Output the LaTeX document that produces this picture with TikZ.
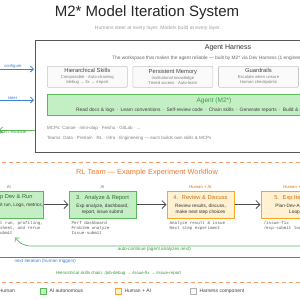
\documentclass[tikz,border=0pt]{standalone}
\usepackage{fontspec}
\setmainfont{Liberation Sans}
\setmonofont{Liberation Mono}
\usetikzlibrary{arrows.meta, positioning}

\definecolor{aigreen}{HTML}{5CB85C}
\definecolor{aifill}{HTML}{C4EFC4}
\definecolor{aitext}{HTML}{3A9A44}
\definecolor{aihead}{HTML}{2E6B30}
\definecolor{huorange}{HTML}{F5A623}
\definecolor{hufill}{HTML}{FFF1D2}
\definecolor{huhead}{HTML}{D0700F}
\definecolor{rlorange}{HTML}{EE7A30}
\definecolor{dashorange}{HTML}{F5A070}
\definecolor{steerblue}{HTML}{3B82D6}
\definecolor{harnessgray}{HTML}{555555}
\definecolor{headgray}{HTML}{444444}
\definecolor{notegray}{HTML}{808080}

\newcommand{\fsz}[2]{\fontsize{#1}{#2}\selectfont}
\newcommand{\boxhead}[1]{{\fsz{5.8}{7}\color{headgray}#1}}
\newcommand{\flowhead}[2]{{\fsz{5.7}{7}\color{#1}#2}}
\newcommand{\dotsep}{\hspace{2.2pt}·\hspace{2.2pt}}

\begin{document}
\begin{tikzpicture}[x=1pt, y=-1pt,
    subbox/.style    = {draw=gray!45, fill=gray!4, rounded corners=1pt, line width=0.6pt,
                        minimum width=80pt, minimum height=21pt, align=center,
                        inner sep=0pt, font=\fsz{4.2}{5}, text=notegray},
    flowbox/.style   = {line width=1pt, minimum width=67pt, minimum height=27pt,
                        align=center, inner sep=0pt, font=\fsz{4.75}{6}, text=black!80},
    aibox/.style     = {flowbox, draw=aigreen, fill=aifill},
    hubox/.style     = {flowbox, draw=huorange, fill=hufill},
    flowarrow/.style = {-{Straight Barb[length=4pt, width=8pt]}, draw=black!70, line width=0.8pt},
    sidearrow/.style = {-{Straight Barb[length=3pt, width=6pt]}, line width=0.8pt},
    tag/.style       = {font=\fsz{4.2}{5}, inner sep=0.5pt},
    monotxt/.style   = {font=\ttfamily\fsz{4.2}{4.9}, align=left, inner sep=0pt, text=black!65},
    legendsq/.style  = {minimum size=6pt, inner sep=0pt, line width=0.6pt},
    orangedash/.style= {draw=dashorange, line width=0.8pt, dash pattern=on 4pt off 3pt},
  ]
  \clip (0,0) rectangle (300,300);
  \fill[white] (0,0) rectangle (300,300);

  % title
  \node[font=\fsz{15}{18}, text=black!85] (title) at (147,13) {M2* Model Iteration System};
  \node[font=\fsz{5}{6}, text=gray!75] (subtitle) at (158,28)
        {Humans steer at every layer. Models build at every layer.};

  % agent harness
  \node[draw=harnessgray, line width=1.4pt, fill=white, minimum width=360pt,
        minimum height=112pt, anchor=north west, inner sep=0pt] (harness) at (35,40) {};
  \node[font=\fsz{7}{8}, text=black!80] (harnessTitle) at (228,48) {Agent Harness};
  \node[font=\fsz{4.8}{5.5}, text=black!60, anchor=west, inner sep=0pt] (harnessSub) at (112,58)
        {The workspace that makes the agent reliable — built by M2* via Dev Harness (1 engineer)};

  \node[subbox, anchor=north west] (skills) at (47,66)
        {\boxhead{Hierarchical Skills}\\[1pt] Composable · Auto-chaining\\ /debug → fix → /report};
  \node[subbox, right=5pt of skills] (memory)
        {\boxhead{Persistent Memory}\\[1pt] Institutional knowledge\\ Tiered access · Auto-learn};
  \node[subbox, right=5pt of memory] (guard)
        {\boxhead{Guardrails}\\[1pt] Escalate when unsure\\ Human checkpoints};

  \node[draw=aigreen, fill=aifill, line width=1pt, minimum width=334pt, minimum height=20.5pt,
        anchor=north west, inner sep=0pt] (agent) at (47,94) {};
  \node[font=\fsz{6.5}{7}, text=aitext] (agentTitle) at (214,101) {Agent (M2*)};
  \node[font=\fsz{4.9}{6}, text=black!75, anchor=west, inner sep=0pt] (agentSkills) at (76,110)
        {Read docs \& logs\dotsep Learn conventions\dotsep Self-review code\dotsep Chain skills\dotsep
         Generate reports\dotsep Build \& use tools};

  \node[font=\fsz{4.5}{9.5}, text=notegray, anchor=north west, inner sep=0pt, align=left]
        (mcps) at (47,126.5)
        {MCPs: Canoe · mini-olap · Feishu · GitLab · ...\\
         Teams: Data · Pretrain · RL · Infra · Engineering — each builds own skills \& MCPs};

  % human side
  \coordinate (cfgStart) at (-5,69);
  \coordinate (cfgEnd)   at (34,69);
  \coordinate (steerStart) at (-5,100);
  \coordinate (steerEnd)   at (34,100);
  \coordinate (repStart) at (35,130);
  \coordinate (repEnd)   at (-1,130);
  \draw[sidearrow, steerblue] (cfgStart) -- (cfgEnd)
        node[tag, above, pos=0.46, text=steerblue]{configure};
  \draw[sidearrow, steerblue] (steerStart) -- (steerEnd)
        node[tag, above, pos=0.45, text=steerblue]{steer};
  \draw[sidearrow, aigreen] (repStart) -- (repEnd)
        node[tag, below, pos=0.66, text=aitext]{report / escalate};

  % rl team workflow
  \draw[orangedash] (-5,162) -- (305,162);
  \node[font=\fsz{7.4}{9}, text=rlorange] (rlTitle) at (147,173)
        {RL Team — Example Experiment Workflow};

  \node[aibox] (analyze) at (102.5,204.5)
        {\flowhead{aihead}{3.~ Analyze \& Report}\\[2pt] Exp analyze, dashboard,\\ report, issue submit};
  \node[aibox, left=25pt of analyze] (devrun)
        {\flowhead{aihead}{2.~ Exp Dev \& Run}\\[2pt] Code, submit run, Logs, metrics,\\ \strut};
  \node[hubox, right=30pt of analyze] (review)
        {\flowhead{huhead}{4.~ Review \& Discuss}\\[2pt] Review results, discuss,\\ make next step choices};
  \node[hubox, right=26pt of review] (iterate)
        {\flowhead{huhead}{5.~ Exp Iteration}\\[2pt] Plan-Dev-Analyze\\ Loop};

  \node[tag, above=1pt of devrun,  text=aitext] (devrunTag)  {AI};
  \node[tag, above=1pt of analyze, text=aitext] (analyzeTag) {AI};
  \node[tag, above=1pt of review,  text=huhead] (reviewTag)  {Human + AI};
  \node[tag, above=1pt of iterate, text=huhead] (iterateTag) {Human + AI};

  \node[monotxt, below right=2.5pt and 3pt of devrun.south west]
        {Job submit run, profiling,\\ Fill datasheet, and rerun\\ Issue \& submit};
  \node[monotxt, below right=2.5pt and 3pt of analyze.south west]
        {Perf dashboard\\ Problem analyze\\ Issue-submit};
  \node[monotxt, below right=2.5pt and 3pt of review.south west]
        {Analyze result \& issue\\ Next step experiment};
  \node[monotxt, below right=2.5pt and 3pt of iterate.south west]
        {/issue-fix\\ /exp-submit loop};

  \draw[flowarrow] (devrun)  -- (analyze);
  \draw[flowarrow] (analyze) -- (review);
  \draw[flowarrow] (review)  -- (iterate);

  % loops back
  \coordinate (autoStart) at (310,246);
  \coordinate (autoBend)  at (32,246);
  \coordinate (autoEnd)   at (15,237.5);
  \draw[sidearrow, aigreen, line width=0.7pt] (autoStart)
        -- node[tag, below, pos=0.56, yshift=-0.5pt, font=\fsz{4.6}{5}, text=aitext]
           {auto-continue (agent analyzes next)} (autoBend)
        .. controls (22,246) and (19,242) .. (autoEnd);

  \coordinate (nextStart) at (-5,257);
  \coordinate (nextEnd)   at (305,257);
  \draw[steerblue, line width=0.9pt] (nextStart) -- (nextEnd)
        node[tag, below, pos=0.162, yshift=-1pt, font=\fsz{4.6}{5}, text=steerblue]
        {next iteration (human triggers)};

  \node[font=\fsz{4.4}{5}, text=aitext] (chain) at (118.5,273)
        {Hierarchical skills chain: /job-debug → /issue-fix → /issue-report};

  \draw[orangedash] (-5,282) -- (305,282);

  % legend
  \node[legendsq, draw=steerblue, fill=steerblue!20] (lgHumanSq) at (-8,291) {};
  \node[font=\fsz{5}{6}, text=headgray, anchor=west, inner sep=0pt] at (-1.5,291) {Human};
  \node[legendsq, draw=aigreen, fill=aifill] (lgAiSq) at (43,291) {};
  \node[font=\fsz{5}{6}, text=headgray, right=3pt of lgAiSq, inner sep=0pt] {AI autonomous};
  \node[legendsq, draw=huorange, fill=hufill] (lgHuSq) at (118,291) {};
  \node[font=\fsz{5}{6}, text=headgray, right=3pt of lgHuSq, inner sep=0pt] {Human + AI};
  \node[legendsq, draw=gray!60, fill=gray!5] (lgHarnessSq) at (193,291) {};
  \node[font=\fsz{5}{6}, text=headgray, right=3pt of lgHarnessSq, inner sep=0pt] {Harness component};
\end{tikzpicture}
\end{document}
